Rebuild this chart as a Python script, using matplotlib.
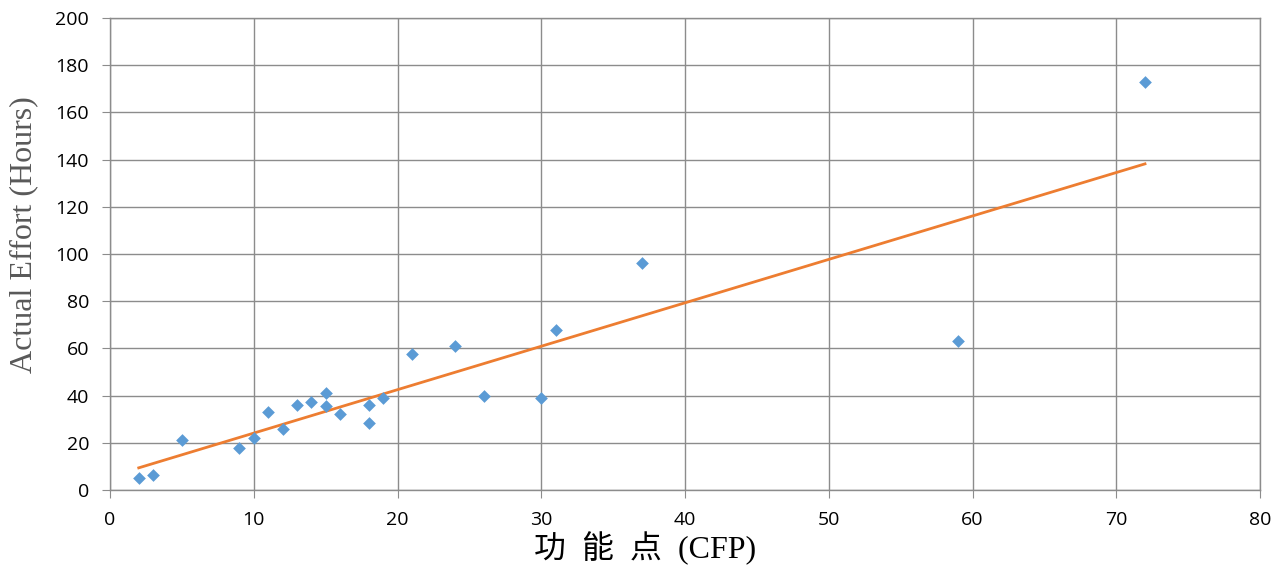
import numpy as np
import matplotlib.pyplot as plt

cfp = [2, 3, 5, 9, 10, 11, 12, 13, 14, 15, 15, 16, 18, 18, 19, 21, 24, 26, 30, 31, 37, 59, 72]
effort = [5, 6.5, 21, 18, 22, 33, 26, 36, 37.5, 41, 35.5, 32, 36, 28.5, 39, 57.5, 61, 40, 39, 68, 96, 63, 173]

x_ticks = [0, 10, 20, 30, 40, 50, 60, 70, 80]
y_ticks = [0, 20, 40, 60, 80, 100, 120, 140, 160, 180, 200]

fig = plt.figure(figsize=(12.74, 5.76), dpi=100)
ax = fig.add_axes([110 / 1274, 1 - 490 / 576, 1150 / 1274, 472 / 576])

# linear trendline
k, b = np.polyfit(cfp, effort, 1)
xs = np.array([min(cfp), max(cfp)])
ax.plot(xs, k * xs + b, color='#ED7D31', lw=2, zorder=2)

ax.scatter(cfp, effort, marker='D', s=42, color='#5B9BD5', zorder=3, linewidths=0)

ax.set_xlim(0, 80)
ax.set_ylim(0, 200)
ax.set_xticks(x_ticks)
ax.set_yticks(y_ticks)
ax.grid(True, color='#8c8c8c', lw=1)
ax.set_axisbelow(True)
for s in ax.spines.values():
    s.set_color('#8c8c8c')
    s.set_linewidth(1)
ax.tick_params(colors='#8c8c8c', length=6, labelcolor='black', labelsize=14)
ax.tick_params(axis='y', pad=9)
ax.tick_params(axis='x', pad=9)
for lab in ax.get_xticklabels() + ax.get_yticklabels():
    lab.set_family('Open Sans')

ax.set_ylabel('Actual Effort (Hours)', family='Liberation Serif', fontsize=23, color='#595959')
ax.yaxis.set_label_coords(-0.062, 0.54)
ax.set_xlabel('功  能  点  (CFP)', family=['Liberation Serif', 'Noto Sans CJK SC'], fontsize=23)
ax.xaxis.set_label_coords(0.465, -0.088)

fig.savefig('out.png', dpi=100)
